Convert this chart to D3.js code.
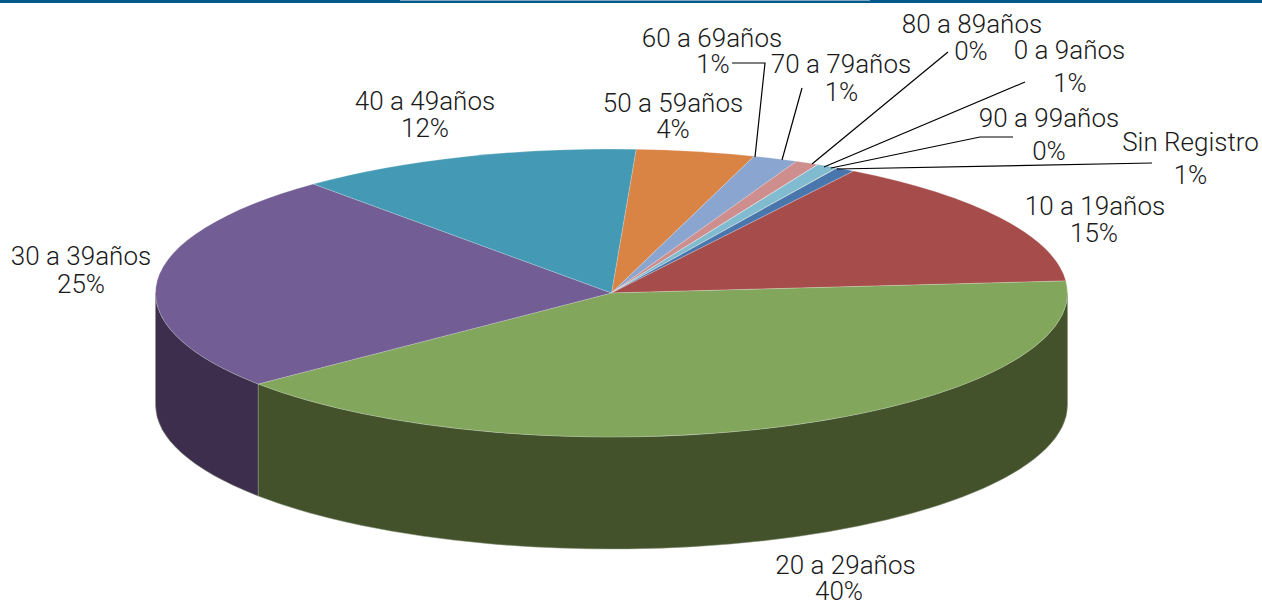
<!DOCTYPE html>
<html>
<head>
<meta charset="utf-8">
<script src="https://cdn.jsdelivr.net/npm/d3@7"></script>
<style>
  html, body { margin: 0; padding: 0; background: #fff; overflow: hidden; }
  text { font-family: Roboto, "Liberation Sans", sans-serif; font-weight: 300; font-size: 26px; fill: #1a1a1a; }
</style>
</head>
<body>
<script>
var width = 1262,
    height = 602;

// slices clockwise, starting just right of twelve o'clock
var groups = ["50 a 59años", "60 a 69años", "70 a 79años", "80 a 89años", "0 a 9años", "90 a 99años",
              "Sin Registro", "10 a 19años", "20 a 29años", "30 a 39años", "40 a 49años"];
var shares = [4.2, 1.58, 0.82, 0.02, 0.74, 0.02, 0.67, 14.75, 40.45, 24.55, 12.2];
var shareLabels = ["4%", "1%", "1%", "0%", "1%", "0%", "1%", "15%", "40%", "25%", "12%"];
var topColors = ["#d98345", "#8aa5cf", "#cd8e8d", "#b9a7c9", "#80bbcf", "#a9c47e", "#4a76ae",
                 "#a64d4b", "#82a65c", "#725e94", "#4499b5"];
var sideColors = ["#6c4122", "#455267", "#664746", "#5c5364", "#405d67", "#54623f", "#253b57",
                  "#532625", "#43522b", "#3d2e4d", "#224c5a"];

// label positions, first line (name) and second line (percent)
var labelX1 = [673, 712, 841, 972, 1069.5, 1049, 1190.5, 1095, 845.5, 81, 425];
var labelY1 = [103, 37.5, 64, 24, 50, 118, 142, 206, 565, 256, 101];
var labelX2 = [673, 713, 841.5, 971, 1070, 1049, 1190.5, 1094, 839, 81, 425];
var labelY2 = [129, 63.5, 91.5, 51, 83, 150.5, 174.5, 233, 591, 284, 128];

// leader lines, outer end first
var leaders = [
  [[732, 63], [765, 63], [755, 157]],
  [[802, 88], [782, 160]],
  [[948, 52], [812, 164]],
  [[1025, 82], [824, 167]],
  [[1013, 137], [980, 137], [831, 168]],
  [[1152, 163], [837, 169]]
];

var cx = 611.5,
    cy = 293,
    rx = 456,
    ry = 144,
    depth = 112;

var svg = d3.select("body").append("svg")
    .attr("width", width)
    .attr("height", height)
    .style("display", "block");

// header strip
svg.append("rect").attr("width", width).attr("height", 3).attr("fill", "#005a8b");
svg.append("rect").attr("x", 400).attr("width", 470).attr("height", 1).attr("fill", "#7fa9c1");

var pie = d3.pie().sort(null)
    .startAngle(3.1 * Math.PI / 180)
    .endAngle(363.1 * Math.PI / 180);
var arcs = pie(shares);

function px(a) { return cx + rx * Math.sin(a); }
function py(a) { return cy - ry * Math.cos(a); }

// outer wall, only the front half of the ellipse shows
var walls = svg.append("g");
arcs.forEach(function(d, i) {
  var a0 = Math.max(d.startAngle, Math.PI / 2),
      a1 = Math.min(d.endAngle, 3 * Math.PI / 2);
  if (a1 <= a0) return;
  walls.append("path")
      .attr("d", "M" + px(a0) + "," + py(a0)
        + "A" + rx + "," + ry + " 0 0 1 " + px(a1) + "," + py(a1)
        + "L" + px(a1) + "," + (py(a1) + depth)
        + "A" + rx + "," + ry + " 0 0 0 " + px(a0) + "," + (py(a0) + depth) + "Z")
      .attr("fill", sideColors[i])
      .attr("stroke", "#8d9680")
      .attr("stroke-width", 0.5);
});

// top face: a flat pie squashed into the ellipse
var arc = d3.arc().innerRadius(0).outerRadius(rx);
svg.append("g")
    .attr("transform", "translate(" + cx + "," + cy + ") scale(1," + (ry / rx) + ")")
  .selectAll("path")
    .data(arcs)
  .enter().append("path")
    .attr("d", arc)
    .attr("fill", function(d, i) { return topColors[i]; })
    .attr("stroke", "#ffffff")
    .attr("stroke-opacity", 0.45)
    .attr("stroke-width", 0.7);

var line = d3.line();
svg.append("g").selectAll("path")
    .data(leaders)
  .enter().append("path")
    .attr("d", line)
    .attr("fill", "none")
    .attr("stroke", "#000")
    .attr("stroke-width", 1.2);

var labels = svg.append("g").selectAll("g")
    .data(groups)
  .enter().append("g");
labels.append("text")
    .attr("x", function(d, i) { return labelX1[i]; })
    .attr("y", function(d, i) { return labelY1[i]; })
    .attr("dy", "0.35em")
    .attr("text-anchor", "middle")
    .text(function(d) { return d; });
labels.append("text")
    .attr("x", function(d, i) { return labelX2[i]; })
    .attr("y", function(d, i) { return labelY2[i]; })
    .attr("dy", "0.35em")
    .attr("text-anchor", "middle")
    .text(function(d, i) { return shareLabels[i]; });
</script>
</body>
</html>
